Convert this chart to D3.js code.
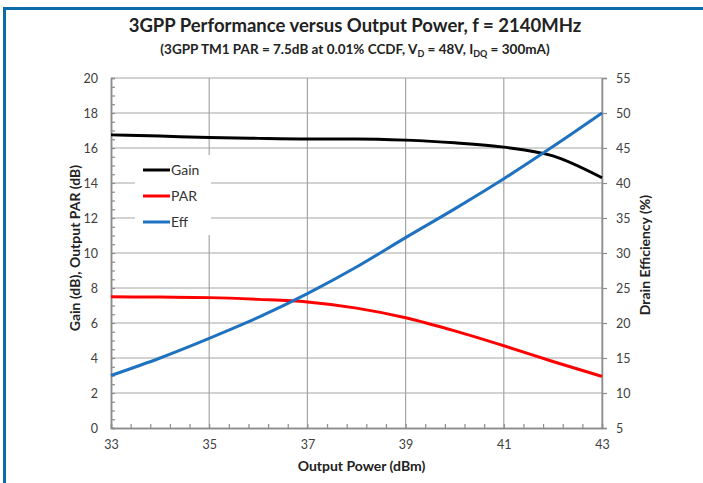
<!DOCTYPE html>
<html>
<head>
<meta charset="utf-8">
<script src="https://cdn.jsdelivr.net/npm/d3@7"></script>
<style>
  body { margin: 0; background: #fff; }
  text { font-family: Lato, "Open Sans", sans-serif; }
</style>
</head>
<body>
<div id="chart"></div>
<script>
// DATA
var power = [33, 34, 35, 36, 37, 38, 39, 40, 41, 42, 43];
var gain = [16.75, 16.68, 16.6, 16.55, 16.52, 16.52, 16.45, 16.3, 16.05, 15.55, 14.3];
var par = [7.5, 7.48, 7.45, 7.35, 7.2, 6.85, 6.3, 5.55, 4.7, 3.8, 2.95];
var eff = [12.5, 15, 17.8, 20.8, 24.2, 28, 32.2, 36.3, 40.6, 45.2, 50];
var xTicks = [33, 35, 37, 39, 41, 43];
var leftTicks = [0, 2, 4, 6, 8, 10, 12, 14, 16, 18, 20];
var rightTicks = [5, 10, 15, 20, 25, 30, 35, 40, 45, 50, 55];
var legendNames = ["Gain", "PAR", "Eff"];
var colors = ["#000000", "#ff0000", "#1f72c0"];

// SET UP
var W = 703, H = 483;
var margin = {top: 78, right: 100, bottom: 55, left: 111},
    width = 602 - margin.left,
    height = 428 - margin.top;

var root = d3.select("#chart").append("svg")
    .attr("width", W)
    .attr("height", H);

// blue frame (top and left only)
root.append("rect").attr("x", 3).attr("y", 7).attr("width", W - 3).attr("height", 3).attr("fill", "#0b6aa8");
root.append("rect").attr("x", 3).attr("y", 7).attr("width", 3).attr("height", H - 7).attr("fill", "#0b6aa8");

// titles
root.append("text")
    .attr("x", 355).attr("y", 32)
    .attr("text-anchor", "middle")
    .attr("font-size", "18.5px").attr("font-weight", "bold").attr("fill", "#222")
    .text("3GPP Performance versus Output Power, f = 2140MHz");

var sub = root.append("text")
    .attr("x", 355).attr("y", 54)
    .attr("text-anchor", "middle")
    .attr("font-size", "13.5px").attr("font-weight", "bold").attr("fill", "#222");
sub.append("tspan").text("(3GPP TM1 PAR = 7.5dB at 0.01% CCDF, V");
sub.append("tspan").attr("font-size", "9px").attr("dy", 3).text("D");
sub.append("tspan").attr("dy", -3).text(" = 48V, I");
sub.append("tspan").attr("font-size", "9px").attr("dy", 3).text("DQ");
sub.append("tspan").attr("dy", -3).text(" = 300mA)");

var svg = root.append("g")
    .attr("transform", "translate(" + margin.left + "," + margin.top + ")");

// SCALES
var x = d3.scaleLinear().domain([33, 43]).range([0, width]);
var yL = d3.scaleLinear().domain([0, 20]).range([height, 0]);
var yR = d3.scaleLinear().domain([5, 55]).range([height, 0]);

// gridlines
svg.append("g")
    .selectAll("line.h")
    .data(leftTicks.slice(1))
    .join("line")
    .attr("x1", 0).attr("x2", width)
    .attr("y1", d => yL(d)).attr("y2", d => yL(d))
    .attr("stroke", "#a6a6a6").attr("stroke-width", 1.2);

svg.append("g")
    .selectAll("line.v")
    .data(xTicks.slice(1))
    .join("line")
    .attr("x1", d => x(d)).attr("x2", d => x(d))
    .attr("y1", 0).attr("y2", height)
    .attr("stroke", "#a6a6a6").attr("stroke-width", 1.2);

// axes
var xAxis = svg.append("g")
    .attr("transform", "translate(0," + height + ")")
    .call(d3.axisBottom(x).tickValues(xTicks).tickSize(0).tickPadding(12).tickFormat(d3.format("d")));

var xMinor = svg.append("g")
    .attr("transform", "translate(0," + height + ")")
    .call(d3.axisTop(x).tickValues(d3.range(33, 43.01, 0.4)).tickSize(4).tickFormat(""));

var yAxisL = svg.append("g")
    .call(d3.axisLeft(yL).tickValues(leftTicks).tickSize(0).tickPadding(13));

var yMinor = svg.append("g")
    .call(d3.axisRight(yL).tickValues(d3.range(0, 20.01, 0.5)).tickSize(4).tickFormat(""));

var yAxisR = svg.append("g")
    .attr("transform", "translate(" + width + ",0)")
    .call(d3.axisRight(yR).tickValues(rightTicks).tickSize(5).tickPadding(9));

[xAxis, xMinor, yAxisL, yMinor, yAxisR].forEach(function(g) {
    g.select(".domain").attr("stroke", "#8c8c8c").attr("stroke-width", 1.5);
    g.selectAll(".tick line").attr("stroke", "#8c8c8c").attr("stroke-width", 1.2);
    g.selectAll(".tick text").attr("fill", "#404040").attr("font-size", "12.5px")
        .style("font-family", "Lato, 'Open Sans', sans-serif");
});

// axis titles
svg.append("text")
    .attr("transform", "rotate(-90)")
    .attr("x", -height / 2 + 5).attr("y", -31)
    .attr("text-anchor", "middle")
    .attr("font-size", "14px").attr("font-weight", "bold").attr("fill", "#222")
    .text("Gain (dB), Output PAR (dB)");

svg.append("text")
    .attr("transform", "rotate(-90)")
    .attr("x", -height / 2 - 2).attr("y", width + 48)
    .attr("text-anchor", "middle")
    .attr("font-size", "14px").attr("font-weight", "bold").attr("fill", "#222")
    .text("Drain Efficiency (%)");

svg.append("text")
    .attr("x", width / 2 + 5).attr("y", height + 43)
    .attr("text-anchor", "middle")
    .attr("font-size", "14px").attr("font-weight", "bold").attr("fill", "#222")
    .text("Output Power (dBm)");

// LINES
var series = [
    power.map((p, i) => [p, yL(gain[i])]),
    power.map((p, i) => [p, yL(par[i])]),
    power.map((p, i) => [p, yR(eff[i])])
];

var line = d3.line()
    .x(d => x(d[0]))
    .y(d => d[1])
    .curve(d3.curveMonotoneX);

// legend box drawn over grid, below lines
var lg = svg.append("g");
lg.append("rect")
    .attr("x", 24).attr("y", 77).attr("width", 76).attr("height", 80)
    .attr("fill", "#fff");

svg.append("g")
    .selectAll("path")
    .data(series)
    .join("path")
    .attr("d", line)
    .attr("fill", "none")
    .attr("stroke", (d, i) => colors[i])
    .attr("stroke-width", 3);

legendNames.forEach(function(name, i) {
    var yy = 92 + i * 26;
    lg.append("line")
        .attr("x1", 32).attr("x2", 59)
        .attr("y1", yy).attr("y2", yy)
        .attr("stroke", colors[i]).attr("stroke-width", 3);
    lg.append("text")
        .attr("x", 60).attr("y", yy + 5)
        .attr("font-size", "14px").attr("fill", "#333")
        .text(name);
});
</script>
</body>
</html>
